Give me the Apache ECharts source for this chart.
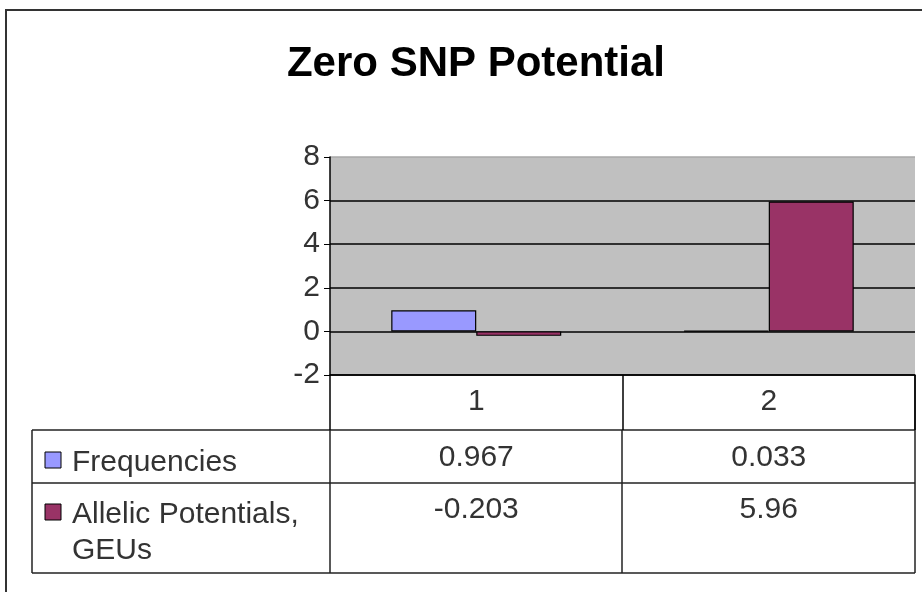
<!DOCTYPE html>
<html lang="en">
<head>
    <meta charset="UTF-8">
    <title>Zero SNP Potential</title>
    <script src="https://cdn.jsdelivr.net/npm/echarts@6/dist/echarts.min.js"></script>
    <style>
        body { margin: 0; background: #fff; }
        #main { width: 922px; height: 592px; }
    </style>
</head>
<body>
    <div id="main"></div>
    <script>
        var categories = ['1', '2'];
        var seriesNames = ['Frequencies', 'Allelic Potentials, GEUs'];
        var frequencies = [0.967, 0.033];
        var allelic = [-0.203, 5.96];
        var tableText = [['0.967', '0.033'], ['-0.203', '5.96']];
        var colors = ['#9999ff', '#993366'];

        var font = 'Arial, "Liberation Sans", sans-serif';
        var myChart = echarts.init(document.getElementById('main'));

        var option = {
            animation: false,
            backgroundColor: '#fff',
            title: {
                text: 'Zero SNP Potential',
                left: 471,
                textAlign: 'center',
                top: 38,
                textStyle: { fontFamily: font, fontSize: 42, fontWeight: 'bold', color: '#000' }
            },
            grid: {
                left: 330, right: 7, top: 157, bottom: 217,
                show: true, backgroundColor: '#c0c0c0', borderWidth: 0
            },
            xAxis: {
                type: 'category',
                data: categories,
                axisLine: { onZero: false, lineStyle: { color: '#000', width: 1.5 } },
                axisTick: { show: true, length: 55, lineStyle: { color: '#000', width: 1.5 } },
                axisLabel: { margin: 12, fontFamily: font, fontSize: 30, color: '#333' }
            },
            yAxis: {
                type: 'value',
                min: -2, max: 8, interval: 2,
                axisLine: { show: true, lineStyle: { color: '#000', width: 1.5 } },
                axisTick: { show: true, length: 6, lineStyle: { color: '#000' } },
                axisLabel: { margin: 10, fontFamily: font, fontSize: 30, color: '#333' },
                splitLine: { lineStyle: { color: ['#000', '#000', '#000', '#000', '#000', '#a8a8a8'], width: 1.5 } }
            },
            series: [
                {
                    name: seriesNames[0], type: 'bar', data: frequencies,
                    barWidth: 85, barGap: '0%',
                    itemStyle: { color: colors[0], borderColor: '#000', borderWidth: 1.2 }
                },
                {
                    name: seriesNames[1], type: 'bar', data: allelic,
                    barWidth: 85,
                    itemStyle: { color: colors[1], borderColor: '#000', borderWidth: 1.2 }
                }
            ]
        };
        myChart.setOption(option);

        // data table under the plot
        var lineStyle = { stroke: '#222', lineWidth: 1.5 };
        var tL = 32, tR = 915, rows = [430, 483, 573], cols = [330, 622];
        var g = [];
        rows.forEach(function (y) {
            g.push({ type: 'line', shape: { x1: tL, y1: y, x2: tR, y2: y }, style: lineStyle });
        });
        [tL, cols[0], cols[1], tR].forEach(function (x) {
            g.push({ type: 'line', shape: { x1: x, y1: rows[0], x2: x, y2: rows[2] }, style: lineStyle });
        });
        g.push({ type: 'line', shape: { x1: tR, y1: 375, x2: tR, y2: rows[0] }, style: lineStyle });

        // legend keys and names
        var rowY = [460, 512];
        var labels = ['Frequencies', 'Allelic Potentials,\nGEUs'];
        for (var i = 0; i < 2; i++) {
            g.push({ type: 'rect', shape: { x: 45, y: rowY[i] - 8, width: 16, height: 16 },
                style: { fill: colors[i], stroke: '#000', lineWidth: 1 } });
            g.push({ type: 'text', x: 72, y: rowY[i] - 15,
                style: { text: labels[i], font: '30px ' + font, fill: '#333', lineHeight: 36 } });
        }
        // values
        for (var r = 0; r < 2; r++) {
            for (var c = 0; c < categories.length; c++) {
                var px = myChart.convertToPixel({ xAxisIndex: 0 }, categories[c]);
                g.push({ type: 'text', x: px, y: rowY[r] - 2,
                    style: { text: tableText[r][c], font: '30px ' + font, fill: '#333',
                        align: 'center', verticalAlign: 'middle' } });
            }
        }
        // outer frame
        g.push({ type: 'rect', shape: { x: 6, y: 10, width: 940, height: 600 },
            style: { fill: 'none', stroke: '#333', lineWidth: 2 } });

        myChart.setOption({ graphic: g });
    </script>
</body>
</html>
